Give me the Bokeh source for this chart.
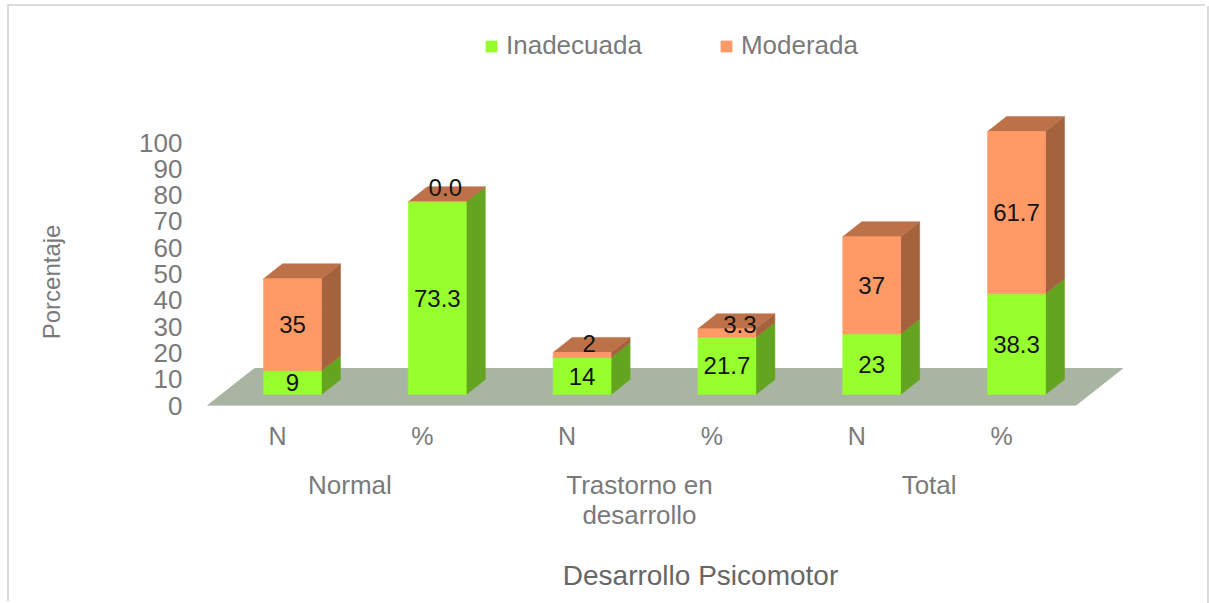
from bokeh.plotting import figure
from bokeh.models import Range1d, LinearAxis, FixedTicker, Legend, LegendItem, ColumnDataSource
from bokeh.core.properties import value
from bokeh.embed import file_html
from bokeh.resources import INLINE
import math

sub_labels = ["N", "%", "N", "%", "N", "%"]
group_labels = ["Normal", "Trastorno en", "Total"]
inadecuada = [9, 73.3, 14, 21.7, 23, 38.3]
moderada = [35, 0.0, 2, 3.3, 37, 61.7]
inad_text = ["9", "73.3", "14", "21.7", "23", "38.3"]
mod_text = ["35", "0.0", "2", "3.3", "37", "61.7"]
y_ticks = list(range(0, 101, 10))

GREEN, GREEN_SIDE = "#96FF2D", "#63A51F"
ORANGE, ORANGE_SIDE, ORANGE_TOP = "#FF9966", "#A4633C", "#BC7149"
FLOOR = "#A9B5A3"
TICK = "#7a7a7a"
FONT = "Liberation Sans"

PX_X = 144.8   # px per category
PX_Y = 2.63    # px per unit
bar_w = 58 / PX_X
shift_x = 15 / PX_X     # bars stand behind the front plane of the floor
base_y = 11 / PX_Y
dx = 19 / PX_X
dy = 15 / PX_Y

p = figure(width=1198, height=597, output_backend="svg", toolbar_location=None,
           x_range=Range1d((199 - 277) / PX_X, (1201 - 277) / PX_X),
           y_range=Range1d(0, 399 / PX_Y),
           min_border_left=190, min_border_right=6, min_border_top=0, min_border_bottom=198,
           x_axis_type=None, y_axis_type=None, background_fill_color="white",
           border_fill_color=None, outline_line_color=None, margin=(6, 0, 0, 9))
p.styles = {"box-shadow": "-2px -2px 0 #dcdcdc, 2px 0 0 #dcdcdc"}
p.grid.visible = False

# floor
fl, fr, bk = -70 / PX_X, 798 / PX_X, 37 / PX_Y
p.patch([fl, fr, fr + 47 / PX_X, fl + 47 / PX_X], [0, 0, bk, bk], fill_color=FLOOR, line_color=FLOOR)

xs = [i + shift_x for i in range(6)]
b0 = [base_y] * 6
t0 = [b + v for b, v in zip(b0, inadecuada)]
t1 = [b + v for b, v in zip(t0, moderada)]

def side(bot, top):
    return ([[x + bar_w / 2, x + bar_w / 2 + dx, x + bar_w / 2 + dx, x + bar_w / 2] for x in xs],
            [[b, b + dy, t + dy, t] for b, t in zip(bot, top)])

sx, sy = side(b0, t0)
p.patches(sx, sy, fill_color=GREEN_SIDE, line_color=GREEN_SIDE, line_width=0.5)
sx, sy = side(t0, t1)
p.patches(sx, sy, fill_color=ORANGE_SIDE, line_color=ORANGE_SIDE, line_width=0.5)
p.patches([[x - bar_w / 2, x + bar_w / 2, x + bar_w / 2 + dx, x - bar_w / 2 + dx] for x in xs],
          [[t, t, t + dy, t + dy] for t in t1],
          fill_color=ORANGE_TOP, line_color=ORANGE_TOP, line_width=0.5)

r_g = p.vbar(x=xs, bottom=b0, top=t0, width=bar_w, fill_color=GREEN, line_color=GREEN, line_width=0.5)
r_o = p.vbar(x=xs, bottom=t0, top=t1, width=bar_w, fill_color=ORANGE, line_color=ORANGE, line_width=0.5)

# data labels
g_src = ColumnDataSource(dict(x=xs, y=[(a + b) / 2 for a, b in zip(b0, t0)], t=inad_text))
p.text("x", "y", text="t", source=g_src, text_align="center", text_baseline="middle",
       text_font=value(FONT), text_font_size="24px", text_color="#141414")
o_xoff = [0, 8, 7, 13, 0, 0]
o_yoff = [0, -14, -12, -9, 0, 0]
o_src = ColumnDataSource(dict(x=xs, y=[(a + b) / 2 for a, b in zip(t0, t1)], t=mod_text,
                              xo=o_xoff, yo=o_yoff))
p.text("x", "y", text="t", x_offset="xo", y_offset="yo", source=o_src, text_align="center",
       text_baseline="middle", text_font=value(FONT), text_font_size="24px", text_color="#141414")

# axes
yax = LinearAxis(ticker=FixedTicker(ticks=y_ticks), axis_line_color=None,
                 major_tick_line_color=None, minor_tick_line_color=None,
                 major_label_standoff=11, major_label_text_font=FONT,
                 major_label_text_font_size="26px", major_label_text_color=TICK)
p.add_layout(yax, "left")

y_title_at = 68.8
ytitle = LinearAxis(ticker=FixedTicker(ticks=[y_title_at]),
                    major_label_overrides={y_title_at: "Porcentaje"},
                    major_label_orientation=math.pi / 2,
                    axis_line_color=None, major_tick_line_color=None, minor_tick_line_color=None,
                    major_label_standoff=79, major_label_text_font=FONT,
                    major_label_text_font_size="24px", major_label_text_color=TICK)
p.add_layout(ytitle, "left")

def below_axis(ticks, labels, standoff, size, **kw):
    ax = LinearAxis(ticker=FixedTicker(ticks=ticks),
                    major_label_overrides=dict(zip(ticks, labels)),
                    axis_line_color=None, major_tick_line_color=None, minor_tick_line_color=None,
                    major_label_standoff=standoff, major_label_text_font=FONT,
                    major_label_text_font_size=size, major_label_text_color=TICK, **kw)
    p.add_layout(ax, "below")

below_axis(list(range(6)), sub_labels, 10, "25px")
below_axis([0.5, 2.5, 4.5], group_labels, 11, "26px")
below_axis([2.5], ["desarrollo"], -9, "26px",
           axis_label="Desarrollo Psicomotor", axis_label_text_font=FONT,
           axis_label_text_font_style="normal", axis_label_text_font_size="28px",
           axis_label_text_color="#666666", axis_label_standoff=27)

legend = Legend(items=[LegendItem(label="Inadecuada", renderers=[r_g]),
                       LegendItem(label="Moderada", renderers=[r_o])],
                orientation="horizontal", location=(285, 344), border_line_color=None,
                background_fill_alpha=0, glyph_width=14, glyph_height=14, label_standoff=8,
                spacing=77, margin=0, padding=0, label_text_font=FONT,
                label_text_font_size="26px", label_text_color=TICK)
p.add_layout(legend, "center")

open("out.html", "w").write(file_html(p, INLINE))
